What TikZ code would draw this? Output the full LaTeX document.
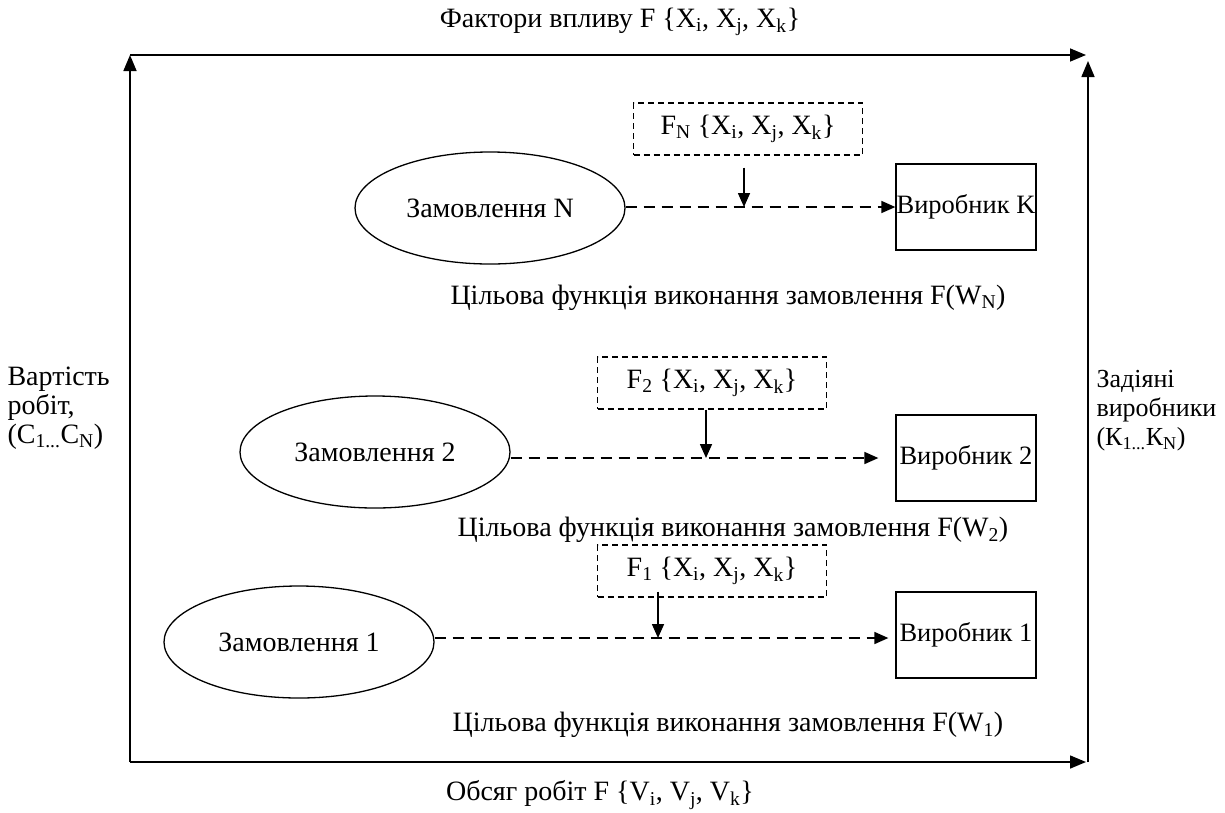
\documentclass[tikz,border=0pt]{standalone}
\usepackage{fontspec}
\setmainfont{Liberation Serif}
\usetikzlibrary{arrows.meta,shapes.geometric}

\tikzset{
  ordernode/.style={draw,ellipse,line width=1.3pt,minimum width=270pt,minimum height=112pt,inner sep=0pt},
  makernode/.style={draw,line width=1.3pt,minimum width=140pt,minimum height=86pt,inner sep=0pt,font=\fontsize{26.5}{29}\selectfont},
  factorbox/.style={draw,line width=1.1pt,dash pattern=on 6pt off 4pt,minimum width=229pt,minimum height=52pt},
  ordlink/.style={-{Triangle[length=14pt,width=12pt]},line width=1.6pt,dash pattern=on 11pt off 7pt},
  pushlink/.style={-{Triangle[length=14pt,width=12pt]},line width=1.6pt},
  framearrow/.style={-{Triangle[length=16pt,width=13pt]},line width=1.6pt}
}

\begin{document}
\begin{tikzpicture}[x=1pt,y=-1pt,font=\fontsize{28}{29}\selectfont]
\useasboundingbox (0,0) rectangle (1225,812);

% frame
\coordinate (bl) at (130,762);
\coordinate (tl) at (130,55);
\coordinate (tr) at (1086,55);
\coordinate (br) at (1088,762);
\coordinate (rt) at (1088,61);
\coordinate (be) at (1086,762);
\draw[framearrow] (bl) -- (tl);
\draw[framearrow] (tl) -- (tr);
\draw[framearrow] (bl) -- (be);
\draw[framearrow] (br) -- (rt);

\node (title) at (620,22) {Фактори впливу F \{X\textsubscript{i}, X\textsubscript{j}, X\textsubscript{k}\}};
\node (volume) at (600,795) {Обсяг робіт F \{V\textsubscript{i}, V\textsubscript{j}, V\textsubscript{k}\}};
\node[align=left,anchor=west] (cost) at (4,408) {Вартість\\робіт,\\(C\textsubscript{1...}C\textsubscript{N})};
\node[align=left,anchor=west,font=\fontsize{26}{29}\selectfont] (used) at (1093,411) {Задіяні\\виробники\\(К\textsubscript{1...}К\textsubscript{N})};

% order N
\node[ordernode] (oN) at (490,208) {Замовлення N};
\node[makernode] (mK) at (966,207) {Виробник K};
\node[factorbox] (fN) at (748,129) {F\textsubscript{N} \{X\textsubscript{i}, X\textsubscript{j}, X\textsubscript{k}\}};
\coordinate (xN) at (744,207);
\draw[ordlink] (oN.east |- xN) -- (mK.west |- xN);
\draw[pushlink] ([yshift=-12pt]fN.south -| xN) -- (xN);
\node (gN) at (728,298) {Цільова функція виконання замовлення F(W\textsubscript{N})};

% order 2
\node[ordernode] (o2) at (375,452) {Замовлення 2};
\node[makernode] (m2) at (966,458) {Виробник 2};
\node[factorbox] (f2) at (712,383) {F\textsubscript{2} \{X\textsubscript{i}, X\textsubscript{j}, X\textsubscript{k}\}};
\coordinate (x2) at (706,458);
\draw[ordlink,shorten >=17pt] (o2.east |- x2) -- (m2.west |- x2);
\draw[pushlink] (f2.south -| x2) -- (x2);
\node (g2) at (733,530) {Цільова функція виконання замовлення F(W\textsubscript{2})};

% order 1
\node[ordernode] (o1) at (299,642) {Замовлення 1};
\node[makernode] (m1) at (966,635) {Виробник 1};
\node[factorbox] (f1) at (712,571) {F\textsubscript{1} \{X\textsubscript{i}, X\textsubscript{j}, X\textsubscript{k}\}};
\coordinate (x1) at (658,638);
\draw[ordlink,shorten >=7pt] (o1.east |- x1) -- (m1.west |- x1);
\draw[pushlink] ([yshift=6pt]f1.south -| x1) -- (x1);
\node (g1) at (728,725) {Цільова функція виконання замовлення F(W\textsubscript{1})};
\end{tikzpicture}
\end{document}
